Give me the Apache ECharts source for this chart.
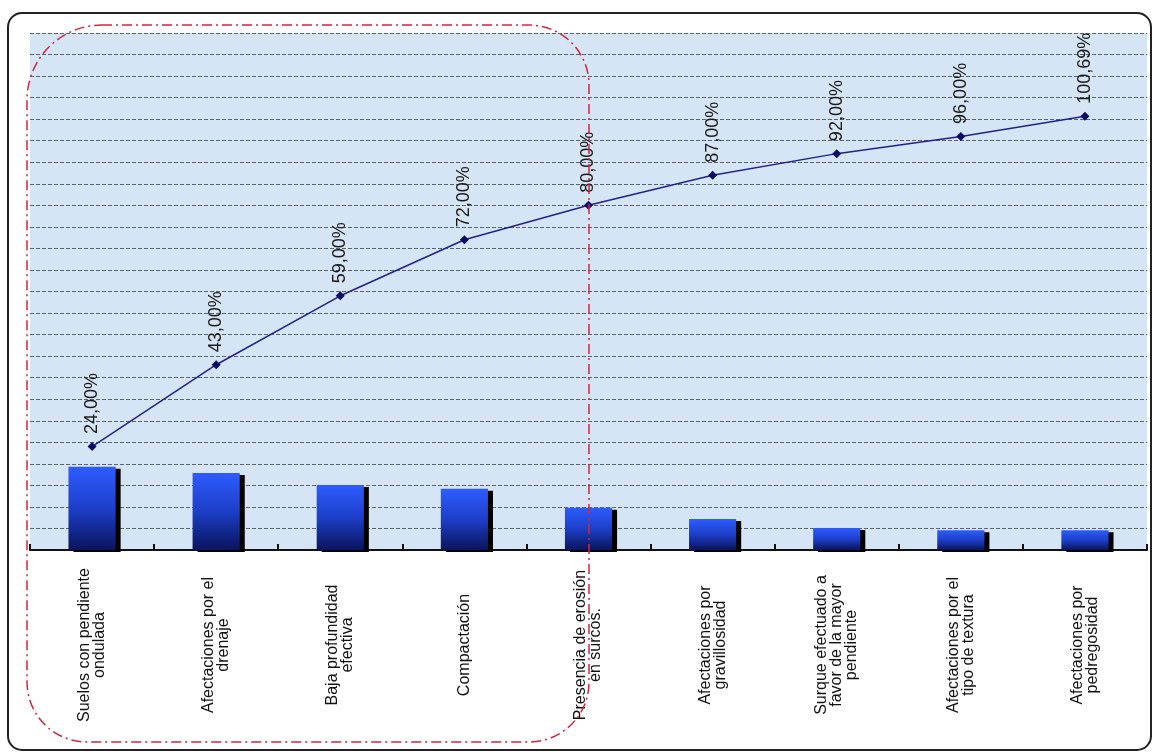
<!DOCTYPE html>
<html>
<head>
<meta charset="utf-8">
<script src="https://cdn.jsdelivr.net/npm/echarts@6/dist/echarts.min.js"></script>
<style>
  html, body { margin: 0; padding: 0; background: #ffffff; }
  #chart { width: 1158px; height: 752px; }
</style>
</head>
<body>
<div id="chart"></div>
<script>
// Causas de degradación del suelo (diagrama de Pareto)
const categorias = [
  'Suelos con pendiente\nondulada',
  'Afectaciones por el\ndrenaje',
  'Baja profundidad\nefectiva',
  'Compactación',
  'Presencia de erosión\nen surcos.',
  'Afectaciones por\ngravillosidad',
  'Surque efectuado a\nfavor de la mayor\npendiente',
  'Afectaciones por el\ntipo de textura',
  'Afectaciones por\npedregosidad'
];
// Frecuencia de cada causa (barras)
const frecuencia = [19.3, 17.9, 15.1, 14.2, 9.8, 7.2, 5.1, 4.6, 4.6];
// Porcentaje acumulado (línea)
const acumulado = [24, 43, 59, 72, 80, 87, 92, 96, 100.69];

const FONT = '"Liberation Sans", Arial, sans-serif';
const chart = echarts.init(document.getElementById('chart'), null, { renderer: 'canvas' });

const fmtPct = v => v.toFixed(2).replace('.', ',') + '%';

chart.setOption({
  animation: false,
  backgroundColor: '#ffffff',
  grid: {
    left: 30, right: 11, top: 33, bottom: 202,
    show: true, backgroundColor: '#d5e5f5', borderWidth: 0
  },
  xAxis: {
    type: 'category',
    data: categorias,
    boundaryGap: true,
    axisLine: { lineStyle: { color: '#111', width: 2 } },
    axisTick: { show: true, inside: true, length: 6, interval: 0, lineStyle: { color: '#111', width: 2 } },
    axisLabel: {
      interval: 0,
      rotate: 90,
      align: 'center',
      verticalAlign: 'middle',
      margin: 95,
      fontFamily: FONT,
      fontSize: 16,
      lineHeight: 15,
      color: '#111'
    }
  },
  yAxis: {
    type: 'value',
    min: 0, max: 120, interval: 5,
    axisLine: { show: false },
    axisTick: { show: false },
    axisLabel: { show: false },
    splitLine: { lineStyle: { color: '#5a6470', width: 1, type: [4, 2] } }
  },
  series: [
    {
      type: 'bar',
      data: frecuencia,
      barWidth: '38%',
      z: 2,
      itemStyle: {
        color: new echarts.graphic.LinearGradient(0, 0, 0, 1, [
          { offset: 0, color: '#2f5cff' },
          { offset: 0.5, color: '#1d3fc8' },
          { offset: 1, color: '#0a145c' }
        ]),
        borderWidth: 0,
        shadowColor: '#000000',
        shadowBlur: 0,
        shadowOffsetX: 5,
        shadowOffsetY: 2
      }
    },
    {
      type: 'line',
      data: acumulado,
      z: 3,
      symbol: 'diamond',
      symbolSize: 9,
      lineStyle: { color: '#22228a', width: 1.5 },
      itemStyle: { color: '#0c0c66' },
      label: {
        show: true,
        position: 'top',
        distance: 8,
        rotate: 90,
        align: 'left',
        verticalAlign: 'middle',
        fontFamily: FONT,
        fontSize: 18,
        color: '#1a1a1a',
        formatter: p => fmtPct(p.value)
      }
    }
  ],
  graphic: [
    {
      type: 'rect',
      z: 50,
      silent: true,
      shape: { x: 8, y: 13, width: 1143, height: 737, r: 14 },
      style: { fill: 'none', stroke: '#222', lineWidth: 2 }
    },
    {
      type: 'rect',
      z: 60,
      silent: true,
      shape: { x: 27, y: 25, width: 562, height: 717, r: [75, 60, 60, 60] },
      style: { fill: 'none', stroke: '#d2263a', lineWidth: 1.5, lineDash: [10, 4, 2, 4] }
    }
  ]
});
</script>
</body>
</html>
